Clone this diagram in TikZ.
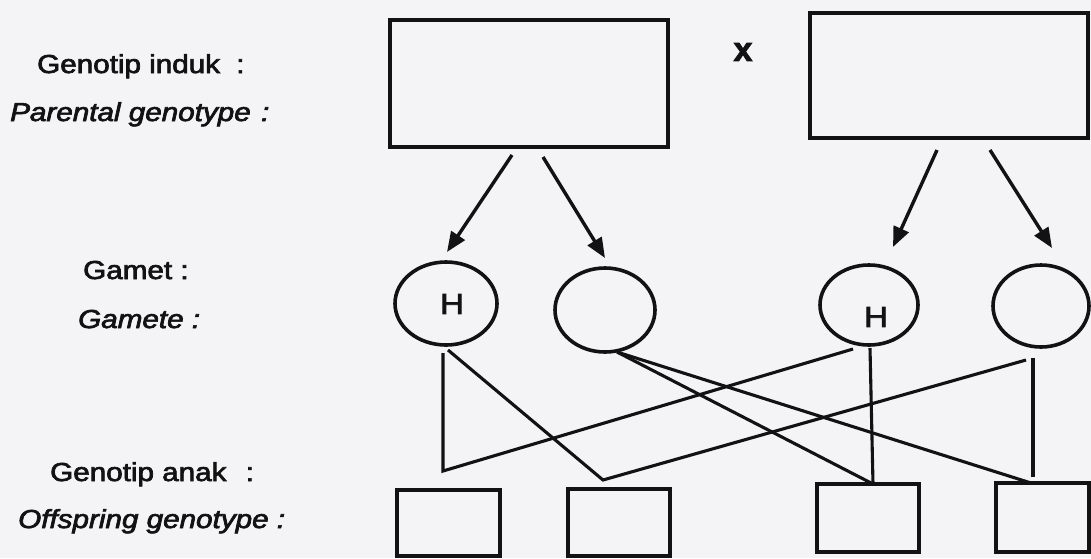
\documentclass[tikz,border=0pt]{standalone}
\usepackage{fontspec}
\setmainfont{Liberation Sans}[FakeBold=2.5]
\usetikzlibrary{arrows.meta,shapes.geometric}
\definecolor{paper}{RGB}{244,243,245}
\definecolor{ink}{RGB}{18,18,18}
\tikzset{
  lbl/.style={anchor=base west, inner sep=0pt, text=ink, font=\fontsize{26}{28}\selectfont},
  pbox/.style={draw=ink, line width=3.6pt, inner sep=0pt},
  obox/.style={draw=ink, line width=3.4pt, inner sep=0pt},
  gam/.style={draw=ink, ellipse, line width=3.6pt, inner sep=0pt},
  allele/.style={inner sep=0pt, text=ink, font=\fontsize{29}{30}\selectfont},
  arr/.style={draw=ink, line width=3.4pt, -{Triangle[length=20pt,width=16pt]}},
  link/.style={draw=ink, line width=3.1pt, line join=miter}
}
\newcommand{\xs}[1]{\scalebox{1.14}[1]{#1}}
\begin{document}
\begin{tikzpicture}[x=1pt,y=-1pt]
\fill[paper] (0,0) rectangle (1091,558);
\useasboundingbox (0,0) rectangle (1091,558);

% labels
\node[lbl] (l1) at (37,73) {\xs{Genotip induk\hspace{0.55em}:}};
\node[lbl] (l2) at (10,121) {\xs{\itshape Parental genotype\hspace{0.35em}:}};
\node[lbl] (l3) at (83,279) {\xs{Gamet :}};
\node[lbl] (l4) at (78,328) {\xs{\itshape Gamete :}};
\node[lbl] (l5) at (50,481) {\xs{Genotip anak\hspace{0.65em}:}};
\node[lbl] (l6) at (18,528) {\xs{\itshape Offspring genotype :}};

% parents
\node[pbox, minimum width=278pt, minimum height=127pt] (p1) at (529,83.5) {};
\node[pbox, minimum width=278pt, minimum height=125pt] (p2) at (949,75.5) {};
\node[inner sep=0pt, text=ink, font=\fontsize{34}{36}\selectfont\bfseries] (cross) at (743,52) {x};

% gametes
\node[gam, minimum width=102pt, minimum height=83pt] (g1) at (446,303.5) {};
\node[gam, minimum width=100pt, minimum height=84pt] (g2) at (605,310) {};
\node[gam, minimum width=98pt, minimum height=80pt] (g3) at (869,305) {};
\node[gam, minimum width=96pt, minimum height=82pt] (g4) at (1041,306) {};
\node[allele] (h1) at (452,304) {\xs{H}};
\node[allele] (h3) at (876,317) {\xs{H}};

% offspring
\node[obox, minimum width=103pt, minimum height=66pt] (o1) at (448.5,523) {};
\node[obox, minimum width=102pt, minimum height=67pt] (o2) at (619,522.5) {};
\node[obox, minimum width=102pt, minimum height=68pt] (o3) at (868,518) {};
\node[obox, minimum width=93pt, minimum height=69pt] (o4) at (1042.5,517.5) {};

% arrow end points
\coordinate (s1) at (512,155); \coordinate (e1) at (447,252);
\coordinate (s2) at (543,157); \coordinate (e2) at (605,258);
\coordinate (s3) at (937,150); \coordinate (e3) at (893,247);
\coordinate (s4) at (990,150); \coordinate (e4) at (1052,248);
\draw[arr] (s1) -- (e1);
\draw[arr] (s2) -- (e2);
\draw[arr] (s3) -- (e3);
\draw[arr] (s4) -- (e4);

% crossing lines
\coordinate (c1a) at (443,353); \coordinate (j1) at (443,471); \coordinate (c3a) at (853,349);
\coordinate (c1b) at (448,350); \coordinate (j2) at (603,480); \coordinate (c4a) at (1026,360);
\coordinate (c2) at (617,352);
\coordinate (c3b) at (870,348); \coordinate (t3) at (873,484);
\coordinate (c4b) at (1033,358); \coordinate (t4v) at (1033,477); \coordinate (t4) at (1031,483);
\draw[link] (c1a) -- (j1) -- (c3a);
\draw[link] (c1b) -- (j2) -- (c4a);
\draw[link] (c2) -- (t3);
\draw[link] (c2) -- (t4);
\draw[link] (c3b) -- (t3);
\draw[link] (c4b) -- (t4v);
\end{tikzpicture}
\end{document}
